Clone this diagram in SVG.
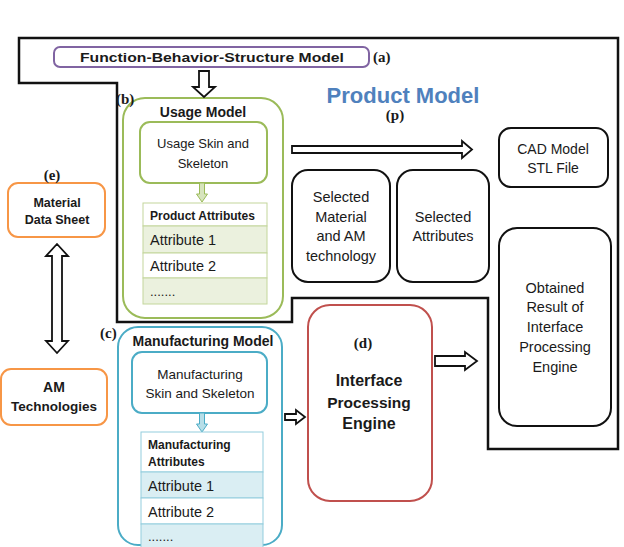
<svg xmlns="http://www.w3.org/2000/svg" width="624" height="547" viewBox="0 0 624 547">
<style>
text{font-family:"Liberation Sans",Arial,sans-serif;fill:#1a1a1a}
.b{font-weight:bold}
.c{text-anchor:middle}
.lbl{font-family:"Liberation Serif","Times New Roman",serif;font-weight:bold;font-size:15px}
.blk{fill:#fff;stroke:#111;stroke-width:2}
.hol{fill:#fff;stroke:#111;stroke-width:1.8;stroke-linejoin:miter}
.g{fill:#fff;stroke:#9BBB59;stroke-width:2}
.bl{fill:#fff;stroke:#4BACC6;stroke-width:2}
.gt{stroke:#C3D69B;stroke-width:1}
.bt{stroke:#93CDDD;stroke-width:1}
</style>
<rect width="624" height="547" fill="#fff"/>

<g id="product-model">
<polygon points="19,38 618,38 618,449 488,449 488,298 292,298 292,322 117,322 117,83 19,83" fill="none" stroke="#111" stroke-width="2.5"/>
<text x="403" y="103" class="b c" style="font-size:22px;fill:#4F81BD">Product Model</text>
<text x="395" y="120" class="lbl c">(p)</text>
</g>

<g id="fbs">
<rect x="54" y="47" width="315" height="20" rx="6" fill="#fff" stroke="#8064A2" stroke-width="2"/>
<text x="212" y="62" class="b c" style="font-size:13.5px" textLength="264" lengthAdjust="spacingAndGlyphs">Function-Behavior-Structure Model</text>
<text x="373" y="62" class="lbl">(a)</text>
</g>

<g id="usage-model">
<rect x="123" y="98" width="160" height="220" rx="22" class="g"/>
<text x="116" y="104" class="lbl">(b)</text>
<text x="203" y="117" class="b c" style="font-size:14px">Usage Model</text>
<rect x="140" y="122" width="127" height="61" rx="10" class="g"/>
<text x="203" y="147.5" class="c" style="font-size:13px">Usage Skin and</text>
<text x="203" y="167.5" class="c" style="font-size:13px">Skeleton</text>
<polygon points="199.5,183 204.5,183 204.5,194 207.5,194 202,202 196.5,194 199.5,194" fill="#D7E4BD" stroke="#9BBB59" stroke-width="1"/>
<rect x="143" y="203" width="124" height="23" fill="#fff" class="gt"/>
<rect x="143" y="226" width="124" height="27" fill="#EBF1DE" class="gt"/>
<rect x="143" y="253" width="124" height="25" fill="#fff" class="gt"/>
<rect x="143" y="278" width="124" height="26" fill="#EBF1DE" class="gt"/>
<text x="150" y="220" class="b" style="font-size:12px">Product Attributes</text>
<text x="150" y="245" style="font-size:14.5px">Attribute 1</text>
<text x="150" y="271" style="font-size:14.5px">Attribute 2</text>
<text x="150" y="296" style="font-size:13px">.......</text>
</g>

<g id="manufacturing-model">
<rect x="118" y="327" width="164" height="218" rx="20" class="bl"/>
<text x="100" y="338" class="lbl">(c)</text>
<text x="203" y="346" class="b c" style="font-size:14px">Manufacturing Model</text>
<rect x="132" y="352" width="135" height="61" rx="10" class="bl"/>
<text x="200" y="379" class="c" style="font-size:13.5px">Manufacturing</text>
<text x="200" y="398" class="c" style="font-size:13.5px">Skin and Skeleton</text>
<polygon points="199.5,413 204.5,413 204.5,424 207.5,424 202,432 196.5,424 199.5,424" fill="#B7DEE8" stroke="#4BACC6" stroke-width="1"/>
<rect x="141" y="432" width="122" height="40" fill="#fff" class="bt"/>
<rect x="141" y="472" width="122" height="26" fill="#DAEEF3" class="bt"/>
<rect x="141" y="498" width="122" height="26" fill="#fff" class="bt"/>
<rect x="141" y="524" width="122" height="30" fill="#DAEEF3" class="bt"/>
<text x="148" y="449" class="b" style="font-size:12px">Manufacturing</text>
<text x="148" y="466" class="b" style="font-size:12px">Attributes</text>
<text x="148" y="491" style="font-size:14.5px">Attribute 1</text>
<text x="148" y="517" style="font-size:14.5px">Attribute 2</text>
<text x="148" y="541" style="font-size:13px">.......</text>
</g>

<g id="material-data-sheet">
<rect x="8" y="183" width="97" height="54" rx="10" fill="#fff" stroke="#F79646" stroke-width="2"/>
<text x="52" y="180" class="lbl c">(e)</text>
<text x="57" y="206.5" class="b c" style="font-size:12.5px">Material</text>
<text x="57" y="223.5" class="b c" style="font-size:12.5px">Data Sheet</text>
</g>

<g id="am-technologies">
<rect x="1" y="369" width="106" height="56" rx="10" fill="#fff" stroke="#F79646" stroke-width="2"/>
<text x="54" y="392" class="b c" style="font-size:14px">AM</text>
<text x="54" y="411" class="b c" style="font-size:13.5px">Technologies</text>
</g>

<g id="interface-processing-engine">
<rect x="308" y="305" width="124" height="196" rx="22" fill="#fff" stroke="#C0504D" stroke-width="2"/>
<text x="363" y="348" class="lbl c">(d)</text>
<text x="369" y="386" class="b c" style="font-size:16px">Interface</text>
<text x="369" y="408" class="b c" style="font-size:15.5px">Processing</text>
<text x="369" y="429" class="b c" style="font-size:16px">Engine</text>
</g>

<g id="cad-model">
<rect x="499" y="128" width="109" height="59" rx="12" class="blk"/>
<text x="553" y="154" class="c" style="font-size:14px">CAD Model</text>
<text x="553" y="173" class="c" style="font-size:14px">STL File</text>
</g>

<g id="selected-material">
<rect x="292" y="170" width="98" height="112" rx="16" class="blk"/>
<text x="341" y="202" class="c" style="font-size:14.5px">Selected</text>
<text x="341" y="222" class="c" style="font-size:14.5px">Material</text>
<text x="341" y="241" class="c" style="font-size:14.5px">and AM</text>
<text x="341" y="261" class="c" style="font-size:14.5px">technology</text>
</g>

<g id="selected-attributes">
<rect x="397" y="170" width="92" height="112" rx="16" class="blk"/>
<text x="443" y="222" class="c" style="font-size:14.5px">Selected</text>
<text x="443" y="241" class="c" style="font-size:14.5px">Attributes</text>
</g>

<g id="obtained-result">
<rect x="499" y="228" width="112" height="198" rx="18" class="blk"/>
<text x="555" y="293" class="c" style="font-size:14.5px">Obtained</text>
<text x="555" y="312" class="c" style="font-size:14.5px">Result of</text>
<text x="555" y="332" class="c" style="font-size:14.5px">Interface</text>
<text x="555" y="352" class="c" style="font-size:14.5px">Processing</text>
<text x="555" y="372" class="c" style="font-size:14.5px">Engine</text>
</g>

<g id="connectors">
<polygon class="hol" points="199,71 209,71 209,87 215,87 204,97 193,87 199,87"/>
<polygon class="hol" points="292,146 462,146 462,141 472,149.5 462,158 462,153 292,153"/>
<polygon class="hol" points="57,244 68,256 62,256 62,341 68,341 57,353 46,341 52,341 52,256 46,256"/>
<polygon class="hol" points="285,414 296,414 296,410 305,417 296,424 296,420 285,420"/>
<polygon class="hol" points="435,356 465,356 465,352 477,361 465,370 465,366 435,366"/>
</g>
</svg>
